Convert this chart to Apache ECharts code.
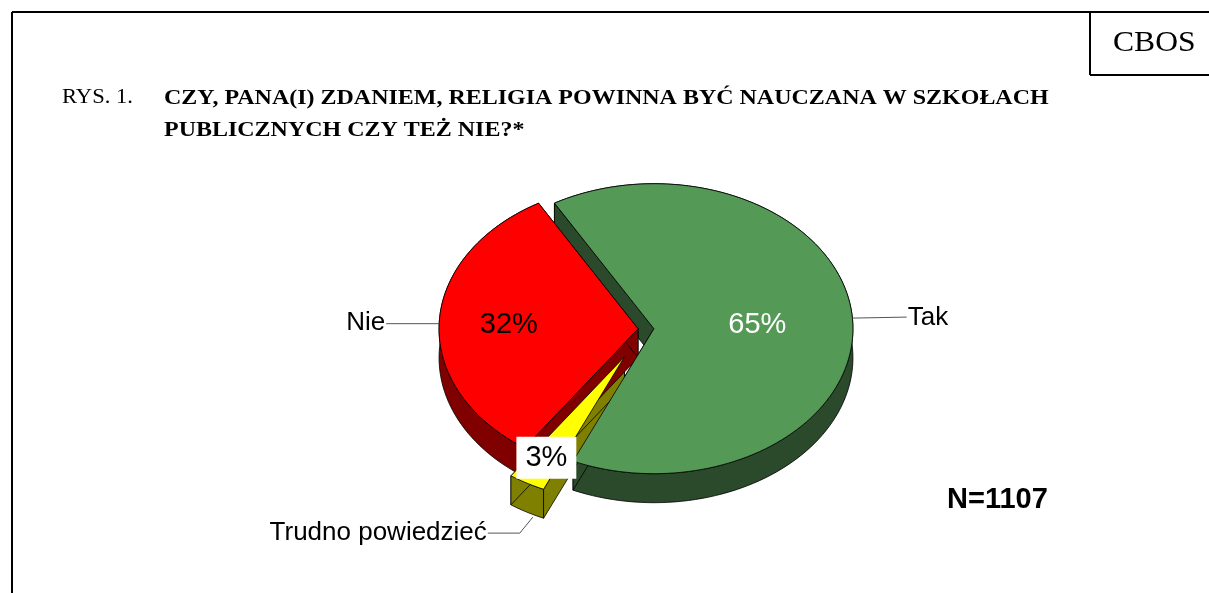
<!DOCTYPE html>
<html>
<head>
<meta charset="utf-8">
<script src="https://cdn.jsdelivr.net/npm/echarts@6/dist/echarts.min.js"></script>
<style>
html, body { margin: 0; padding: 0; background: #fff; }
#chart-container-pie { width: 1209px; height: 593px; }
</style>
</head>
<body>
<div id="chart-container-pie"></div>
<script>
// dane z rysunku
var categories = ['Tak', 'Trudno powiedzieć', 'Nie'];
var values = [65, 3, 32];
var valueLabels = ['65%', '3%', '32%'];

// wyglad plastrow
var topColors = ['#559956', '#FFFF00', '#FF0000'];
var sideColors = ['#2A4A2B', '#808000', '#800000'];
var explode = [0.04, 0.22, 0.04];

var cx = 646, cy = 329, rx = 199, ry = 145, depth = 29;
var startDeg = -30;
var total = values.reduce(function (a, b) { return a + b; }, 0);

var rad = function (d) { return d * Math.PI / 180; };

var sliceAngles = function (i) {
    var before = 0;
    for (var k = 0; k < i; k++) before += values[k];
    var a0 = startDeg + 360 * before / total;
    var a1 = a0 + 360 * values[i] / total;
    return [a0, a1, (a0 + a1) / 2];
};

var sliceCenter = function (i) {
    var mid = sliceAngles(i)[2];
    return [cx + explode[i] * rx * Math.sin(rad(mid)), cy - explode[i] * ry * Math.cos(rad(mid))];
};

var renderItem = function (params, api) {
    var i = params.dataIndex;
    var ang = sliceAngles(i);
    var a0 = ang[0], a1 = ang[1];
    var c = sliceCenter(i);
    var pt = function (a, dy) {
        return [c[0] + rx * Math.sin(rad(a)), c[1] - ry * Math.cos(rad(a)) + dy];
    };
    var steps = Math.max(4, Math.ceil((a1 - a0) / 2));
    var arcTop = [], arcBot = [];
    for (var s = 0; s <= steps; s++) {
        var a = a0 + (a1 - a0) * s / steps;
        arcTop.push(pt(a, 0));
        arcBot.push(pt(a, depth));
    }
    var lineStyle = { stroke: '#000', lineWidth: 0.8, lineJoin: 'round' };
    var wallStyle = Object.assign({ fill: sideColors[i] }, lineStyle);
    var children = [];
    // sciana zewnetrzna
    children.push({
        type: 'polygon', z2: 1 + i,
        shape: { points: arcTop.concat(arcBot.slice().reverse()) },
        style: wallStyle
    });
    // sciany boczne
    [a0, a1].forEach(function (a) {
        var p = pt(a, 0);
        children.push({
            type: 'polygon', z2: 1 + i,
            shape: { points: [c, p, [p[0], p[1] + depth], [c[0], c[1] + depth]] },
            style: wallStyle
        });
    });
    // wierzch
    children.push({
        type: 'polygon', z2: 10 + i,
        shape: { points: [c].concat(arcTop) },
        style: Object.assign({ fill: topColors[i] }, lineStyle)
    });
    return { type: 'group', children: children };
};

// etykiety procentowe i opisy
var labelPos = [0.52, 0.8, 0.65];
var labelColor = ['#fff', '#000', '#000'];
var sansFont = '"Liberation Sans", Arial, sans-serif';
var buildLabels = function () {
    var out = [];
    values.forEach(function (v, i) {
        var mid = sliceAngles(i)[2];
        var c = sliceCenter(i);
        var r = labelPos[i];
        var lx = c[0] + r * rx * Math.sin(rad(mid));
        var ly = c[1] - r * ry * Math.cos(rad(mid));
        var st = {
            text: valueLabels[i], x: lx, y: ly, fill: labelColor[i],
            font: '29px ' + sansFont,
            align: 'center', verticalAlign: 'middle'
        };
        if (i === 1) {
            st.backgroundColor = '#fff';
            st.padding = [7, 9, 6, 9];
        }
        out.push({ type: 'text', z: 50, style: st });

        // linia odniesienia
        var ox = c[0] + rx * Math.sin(rad(mid));
        var oy = c[1] - ry * Math.cos(rad(mid));
        var pts, tx, ty, align;
        if (i === 0) {
            pts = [[ox, oy - 3], [ox + 54, oy - 4]]; tx = ox + 55; ty = oy - 3; align = 'left';
        } else if (i === 2) {
            pts = [[ox, oy + 1], [ox - 53, oy + 1]]; tx = ox - 54; ty = oy; align = 'right';
        } else {
            pts = [[ox + 6, oy + depth + 5], [ox - 7, oy + depth + 21], [ox - 39, oy + depth + 21]];
            tx = ox - 40; ty = oy + depth + 21; align = 'right';
        }
        out.push({ type: 'polyline', z: 40, shape: { points: pts }, style: { stroke: '#555', lineWidth: 1, fill: null } });
        out.push({
            type: 'text', z: 50,
            style: {
                text: categories[i], x: tx, y: ty, fill: '#000', align: align, verticalAlign: 'middle',
                font: '26px ' + sansFont
            }
        });
    });
    return out;
};

var dom = document.getElementById('chart-container-pie');
var myChart = echarts.init(dom, null, { renderer: 'canvas' });

var serif = '"Liberation Serif", "Times New Roman", serif';
var option = {
    backgroundColor: '#fff',
    animation: false,
    graphic: [
        { type: 'line', shape: { x1: 12, y1: 12, x2: 1209, y2: 12 }, style: { stroke: '#000', lineWidth: 2 } },
        { type: 'line', shape: { x1: 12, y1: 12, x2: 12, y2: 593 }, style: { stroke: '#000', lineWidth: 2 } },
        { type: 'line', shape: { x1: 1090, y1: 12, x2: 1090, y2: 75 }, style: { stroke: '#000', lineWidth: 2 } },
        { type: 'line', shape: { x1: 1090, y1: 75, x2: 1209, y2: 75 }, style: { stroke: '#000', lineWidth: 2 } },
        { type: 'text', x: 1113, y: 43, scaleX: 1.09, style: { text: 'CBOS', verticalAlign: 'middle', fill: '#000', font: '29px ' + serif } },
        { type: 'text', x: 62, y: 98, scaleX: 1.13, style: { text: 'RYS. 1.', verticalAlign: 'middle', fill: '#000', font: '20px ' + serif } },
        { type: 'text', x: 164, y: 98, scaleX: 1.09, style: { text: 'CZY, PANA(I) ZDANIEM, RELIGIA POWINNA BYĆ NAUCZANA W SZKOŁACH', verticalAlign: 'middle', fill: '#000', font: 'bold 22px ' + serif } },
        { type: 'text', x: 164, y: 130, scaleX: 1.09, style: { text: 'PUBLICZNYCH CZY TEŻ NIE?*', verticalAlign: 'middle', fill: '#000', font: 'bold 22px ' + serif } },
        { type: 'text', x: 947, y: 500, style: { text: 'N=1107', verticalAlign: 'middle', fill: '#000', font: 'bold 29px ' + sansFont } }
    ].concat(buildLabels()),
    series: [
        {
            type: 'custom',
            coordinateSystem: 'none',
            renderItem: renderItem,
            data: values.map(function (v, i) { return { name: categories[i], value: v }; })
        }
    ]
};

myChart.setOption(option);
window.addEventListener('resize', myChart.resize);
</script>
</body>
</html>
